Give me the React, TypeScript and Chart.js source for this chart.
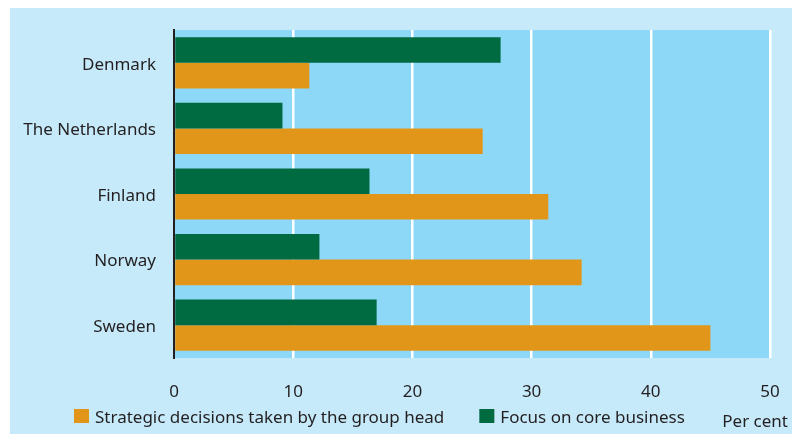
import { useEffect, useRef } from "react";
import { Chart, registerables } from "chart.js";

Chart.register(...registerables);

const categories = ["Denmark", "The Netherlands", "Finland", "Norway", "Sweden"];
const coreBusiness = [27.4, 9.1, 16.4, 12.2, 17.0];
const groupHead = [11.35, 25.9, 31.4, 34.2, 45.0];
const xTickValues = [0, 10, 20, 30, 40, 50];
const coreLabel = "Focus on core business";
const groupHeadLabel = "Strategic decisions taken by the group head";
const unitLabel = "Per cent";

const FONT = '"Noto Sans", sans-serif';
const TEXT = "#231f20";
const OUTER_BG = "#c6eafa";
const PLOT_BG = "#8ed8f7";
const GREEN = "#006a40";
const ORANGE = "#e29619";

const backgroundPlugin = {
  id: "bgPlugin",
  beforeDraw(chart: any) {
    const { ctx, chartArea, width, height } = chart;
    ctx.save();
    ctx.fillStyle = OUTER_BG;
    ctx.fillRect(0, 0, width, height);
    ctx.fillStyle = PLOT_BG;
    ctx.fillRect(chartArea.left, chartArea.top, chartArea.right - chartArea.left, chartArea.bottom - chartArea.top);
    ctx.restore();
  },
};

// Legend row (legend order is reversed relative to dataset order) plus the unit label
const legendPlugin = {
  id: "legendRow",
  afterDraw(chart: any) {
    const { ctx, width } = chart;
    ctx.save();
    ctx.font = `17px ${FONT}`;
    ctx.textBaseline = "alphabetic";
    ctx.textAlign = "left";
    const items = chart.data.datasets.slice().reverse();
    let x = 64;
    items.forEach((ds: any) => {
      ctx.fillStyle = ds.backgroundColor;
      ctx.fillRect(x, 401, 15, 14);
      ctx.fillStyle = TEXT;
      const tx = x + 21;
      ctx.fillText(ds.label, tx, 415);
      x = tx + ctx.measureText(ds.label).width + 35;
    });
    ctx.textAlign = "right";
    ctx.fillText(unitLabel, width - 4, 419);
    ctx.restore();
  },
};

export default function App() {
  const ref = useRef<HTMLCanvasElement | null>(null);

  useEffect(() => {
    if (!ref.current) return;
    Chart.defaults.font.family = FONT;
    Chart.defaults.font.size = 17;
    Chart.defaults.color = TEXT;

    const chart = new Chart(ref.current, {
      type: "bar",
      data: {
        labels: categories,
        datasets: [
          {
            label: coreLabel,
            data: coreBusiness,
            backgroundColor: GREEN,
            borderWidth: 0,
            categoryPercentage: 0.78,
            barPercentage: 1,
          },
          {
            label: groupHeadLabel,
            data: groupHead,
            backgroundColor: ORANGE,
            borderWidth: 0,
            categoryPercentage: 0.78,
            barPercentage: 1,
          },
        ],
      },
      options: {
        indexAxis: "y",
        animation: false,
        responsive: false,
        maintainAspectRatio: false,
        layout: { padding: { left: 0, top: 22, right: 0, bottom: 0 } },
        plugins: {
          tooltip: { enabled: false },
          legend: { display: false },
        },
        scales: {
          x: {
            type: "linear",
            min: 0,
            max: 50,
            afterBuildTicks(scale: any) {
              scale.ticks = xTickValues.map((v) => ({ value: v }));
            },
            afterFit(scale: any) {
              scale.height = 76;
              scale.paddingRight = 22;
            },
            grid: {
              color: (ctx: any) => (ctx.tick && ctx.tick.value === 0 ? "rgba(0,0,0,0)" : "#ffffff"),
              lineWidth: 2.5,
              drawTicks: false,
            },
            border: { display: false },
            ticks: { padding: 24, color: TEXT, font: { size: 17, family: FONT } },
          },
          y: {
            afterFit(scale: any) {
              scale.width = 164;
              scale.paddingTop = 0;
              scale.paddingBottom = 0;
            },
            grid: { display: false, drawTicks: false },
            border: { display: true, color: "#231f20", width: 2 },
            ticks: { padding: 18, labelOffset: 2, color: TEXT, font: { size: 17, family: FONT } },
          },
        },
      },
      plugins: [backgroundPlugin, legendPlugin],
    });
    return () => chart.destroy();
  }, []);

  return (
    <div style={{ position: "absolute", left: 10, top: 8, width: 782, height: 426 }}>
      <canvas ref={ref} width={782} height={426} style={{ display: "block", width: 782, height: 426 }} />
    </div>
  );
}
